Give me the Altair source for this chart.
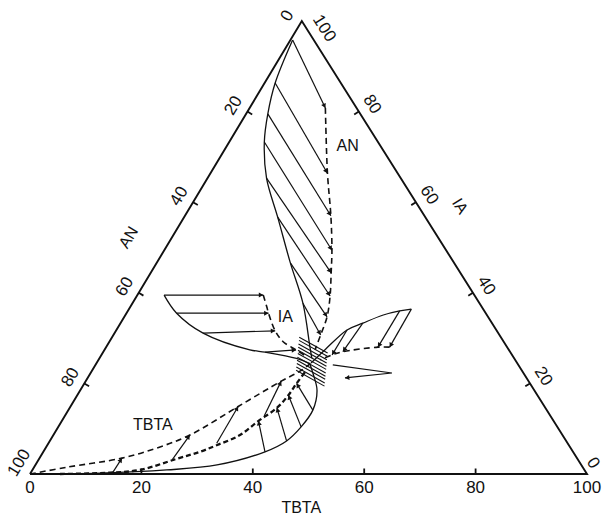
import math
import altair as alt
import pandas as pd

# Ternary phase diagram AN / IA / TBTA.
# Every composition is given in mass % as (TBTA, IA); AN is the balance.

# Upper two-phase region, labelled AN
an_solid = [(0.4, 95.8), (1.9, 86.3), (3.9, 79.5), (6.3, 73.3), (10.6, 65.3),
            (16.8, 56.7), (24.0, 46.6), (30.6, 37.7), (36.6, 28.0), (38.1, 25.6)]
an_dashed = [(13.6, 80.8), (21.0, 66.4), (26.2, 57.0), (30.1, 49.4), (32.4, 44.4),
             (34.7, 39.3), (36.4, 34.7), (37.2, 30.7), (37.8, 27.4)]
an_ties = [((0.4, 95.8), (13.6, 80.8)), ((1.9, 86.3), (21.0, 66.4)),
           ((3.9, 79.5), (26.2, 57.0)), ((6.3, 73.3), (30.1, 49.4)),
           ((10.6, 65.3), (32.4, 44.4)), ((16.8, 56.7), (34.7, 39.3)),
           ((24.0, 46.6), (36.4, 34.7)), ((30.6, 37.7), (37.2, 30.7))]

# Left wing, labelled IA
ia_solid = [(4.8, 39.5), (9.0, 35.5), (15.9, 31.1), (26.1, 27.4), (29.1, 26.9),
            (35.4, 25.5), (38.5, 24.3)]
ia_dashed = [(22.6, 39.5), (24.5, 36.9), (25.5, 35.5), (28.6, 31.6), (31.2, 29.2),
             (34.4, 27.4), (36.9, 26.0)]
ia_ties = [((4.8, 39.5), (22.6, 39.5)), ((9.0, 35.5), (25.5, 35.5)),
           ((15.9, 31.1), (28.6, 31.6)), ((29.1, 26.9), (34.4, 27.4))]

# Right wing towards the TBTA-IA side
wing_solid = [(38.5, 24.5), (39.6, 27.5), (41.4, 31.8), (43.5, 33.3), (46.3, 35.1),
              (48.8, 36.0), (50.7, 36.4)]
wing_dashed = [(50.9, 28.0), (48.8, 28.0), (43.0, 27.0), (41.4, 26.3), (39.8, 25.2)]
wing_ties = [((50.7, 36.4), (50.9, 28.0)), ((48.8, 36.0), (48.8, 28.0)),
             ((43.5, 33.3), (43.0, 27.0)), ((41.4, 31.8), (41.4, 26.3))]
spike = [(42.6, 24.1), (54.1, 22.3), (46.2, 21.2)]

# Lower region, labelled TBTA
tbta_solid = [(0.0, 0.0), (12.5, 0.2), (24.1, 0.9), (32.6, 2.0), (39.8, 4.9),
              (42.5, 7.3), (43.6, 10.4), (43.9, 14.1), (42.5, 18.5), (39.9, 22.3),
              (38.4, 24.3)]
tbta_dotted = [(5.4, 0.0), (14.2, 0.3), (19.3, 0.9), (24.6, 3.3), (28.1, 4.9),
               (30.5, 6.4), (33.5, 8.6), (35.3, 11.7), (37.2, 14.6), (37.9, 17.4),
               (38.1, 20.0), (38.4, 22.5)]
tbta_dashed = [(0.0, 0.0), (5.9, 1.5), (14.8, 3.5), (19.9, 5.7), (24.5, 8.6),
               (30.1, 14.9), (35.1, 20.5), (37.4, 22.7), (38.4, 24.3)]
tbta_ties_up = [((39.8, 4.9), (35.3, 11.7)), ((42.5, 7.3), (37.2, 14.6)),
                ((43.6, 10.4), (37.9, 17.4)), ((43.9, 14.1), (38.1, 20.0))]
tbta_ties_out = [((14.7, 0.4), (14.8, 3.5)), ((24.0, 3.1), (24.5, 8.6)),
                 ((30.2, 6.8), (30.1, 14.9)), ((35.8, 12.8), (35.1, 20.5))]

# Short tie lines crowding round the plait point
plait_ties = [((33.6, 30.2), (40.4, 26.7)), ((33.9, 29.5), (40.7, 26.0)),
              ((34.2, 28.7), (41.0, 25.2)), ((34.5, 28.0), (41.3, 24.5)),
              ((34.8, 27.3), (41.6, 23.8)), ((35.1, 26.6), (41.9, 23.1)),
              ((35.4, 25.8), (42.2, 22.3)), ((35.7, 25.1), (42.5, 21.6)),
              ((36.0, 24.4), (42.8, 20.9)), ((36.3, 23.6), (43.1, 20.1)),
              ((36.6, 22.9), (43.4, 19.4))]

# where the three region names sit, (TBTA, IA)
region_names = [((21.7, 72.4), "AN"), ((28.9, 34.7), "IA"), ((16.8, 10.8), "TBTA")]

tick_values = [0, 20, 40, 60, 80, 100]
axis_name = "TBTA"
left_name = "AN"
right_name = "IA"

# ---------------------------------------------------------------- geometry
W, H = 557, 453
PX_X, PX_Y = W / 100.0, H / 100.0
SKEW = 0.488          # horizontal position of the IA apex along the base
INK = "#111111"
FONT = "Liberation Sans"
HEAD_BACK = 2.2       # px between a tie's end and the centre of its arrowhead


def cart(t, i):
    return t + SKEW * i, i


def unit(dx, dy):
    n = math.hypot(dx, dy)
    return dx / n, dy / n


# screen-space directions of the two slanted sides and their outward normals
tl = unit(SKEW * 100 * PX_X, -100 * PX_Y)
tr = unit((100 - SKEW * 100) * PX_X, 100 * PX_Y)
nl = (tl[1], -tl[0])
nr = (tr[1], -tr[0])


def shift(x, y, dpx, dpy):
    return x + dpx / PX_X, y - dpy / PX_Y


def curve_rows(name, pts):
    out = []
    for k, (t, i) in enumerate(pts):
        x, y = cart(t, i)
        out.append(dict(curve=name, seq=k, x=x, y=y))
    return out


def tie_rows(ties):
    out = []
    for (t0, i0), (t1, i1) in ties:
        x0, y0 = cart(t0, i0)
        x1, y1 = cart(t1, i1)
        out.append(dict(x=x0, y=y0, x2=x1, y2=y1))
    return out


def head_rows(ties):
    out = []
    for (t0, i0), (t1, i1) in ties:
        x0, y0 = cart(t0, i0)
        x1, y1 = cart(t1, i1)
        dx = (x1 - x0) * PX_X
        dy = -(y1 - y0) * PX_Y
        ux, uy = unit(dx, dy)
        ang = math.degrees(math.atan2(dx, -dy)) % 360
        hx, hy = shift(x1, y1, -ux * HEAD_BACK, -uy * HEAD_BACK)
        out.append(dict(x=hx, y=hy, ang=ang))
    return out


solid_df = pd.DataFrame(curve_rows("an", an_solid) + curve_rows("ia", ia_solid)
                        + curve_rows("wing", wing_solid) + curve_rows("tbta", tbta_solid))
dashed_df = pd.DataFrame(curve_rows("an", an_dashed) + curve_rows("ia", ia_dashed)
                         + curve_rows("wing", wing_dashed) + curve_rows("tbta", tbta_dashed))
dotted_df = pd.DataFrame(curve_rows("tbta", tbta_dotted))
spike_df = pd.DataFrame(curve_rows("spike", spike))
frame_df = pd.DataFrame(curve_rows("frame", [(0, 0), (100, 0), (0, 100), (0, 0)]))

arrow_ties = an_ties + ia_ties + wing_ties + tbta_ties_up + tbta_ties_out
ties_df = pd.DataFrame(tie_rows(arrow_ties))
plait_df = pd.DataFrame(tie_rows(plait_ties))
heads_df = pd.DataFrame(head_rows(arrow_ties + [(spike[1], spike[2])]))

# tick marks pointing into the triangle
TICK = 5.5
tick_rows = []
for v in tick_values[1:-1]:
    x, y = cart(v, 0)                       # TBTA along the base
    x2, y2 = shift(x, y, 0, -TICK)
    tick_rows.append(dict(x=x, y=y, x2=x2, y2=y2))
    x, y = cart(0, 100 - v)                 # AN along the left side
    x2, y2 = shift(x, y, -nl[0] * TICK, -nl[1] * TICK)
    tick_rows.append(dict(x=x, y=y, x2=x2, y2=y2))
    x, y = cart(100 - v, v)                 # IA along the right side
    x2, y2 = shift(x, y, -nr[0] * TICK, -nr[1] * TICK)
    tick_rows.append(dict(x=x, y=y, x2=x2, y2=y2))
ticks_df = pd.DataFrame(tick_rows)

# labels
ANG_L = math.degrees(math.atan2(tl[1], tl[0])) % 360
ANG_R = math.degrees(math.atan2(tr[1], tr[0])) % 360
label_rows = []
for v in tick_values:
    x, y = cart(v, 0)
    label_rows.append(dict(x=x, y=y - 14 / PX_Y, text=str(v), ang=0, size=17))
left_along = {0: -3, 100: 4}
right_along = {100: 18, 0: -6}
right_out = {0: 11}
for v in tick_values:
    x, y = cart(0, 100 - v)
    a, b = 15, left_along.get(v, -2)
    x, y = shift(x, y, nl[0] * a + tl[0] * b, nl[1] * a + tl[1] * b)
    label_rows.append(dict(x=x, y=y, text=str(v), ang=ANG_L, size=17))
    x, y = cart(100 - v, v)
    a, b = right_out.get(v, 15), right_along.get(v, 1)
    x, y = shift(x, y, nr[0] * a + tr[0] * b, nr[1] * a + tr[1] * b)
    label_rows.append(dict(x=x, y=y, text=str(v), ang=ANG_R, size=17))

x, y = cart(50, 0)
label_rows.append(dict(x=x - 1.3, y=y - 34 / PX_Y, text=axis_name, ang=0, size=16))
x, y = cart(0, 48)
x, y = shift(x, y, nl[0] * 37, nl[1] * 37)
label_rows.append(dict(x=x, y=y, text=left_name, ang=ANG_L, size=16))
x, y = cart(45, 55)
x, y = shift(x, y, nr[0] * 35, nr[1] * 35)
label_rows.append(dict(x=x, y=y, text=right_name, ang=ANG_R, size=16))

for (t, i), name in region_names:
    x, y = cart(t, i)
    label_rows.append(dict(x=x, y=y, text=name, ang=0, size=16))
labels_df = pd.DataFrame(label_rows)

# ---------------------------------------------------------------- chart
xs = alt.Scale(domain=[0, 100], nice=False, zero=False)
ys = alt.Scale(domain=[0, 100], nice=False, zero=False)
X = alt.X("x:Q", scale=xs, axis=None)
Y = alt.Y("y:Q", scale=ys, axis=None)


def lines(df, **mark):
    return alt.Chart(df).mark_line(color=INK, **mark).encode(
        X, Y, detail="curve:N", order="seq:Q")


def rules(df, width):
    return alt.Chart(df).mark_rule(color=INK, strokeWidth=width).encode(
        X, Y, x2="x2:Q", y2="y2:Q")


frame = lines(frame_df, strokeWidth=1.9, interpolate="linear")
ticks = rules(ticks_df, 1.8)
solid = lines(solid_df, strokeWidth=1.3, interpolate="catmull-rom")
dashed = lines(dashed_df, strokeWidth=1.6, strokeDash=[6, 4], interpolate="catmull-rom")
dotted = lines(dotted_df, strokeWidth=2.3, strokeDash=[5, 3], interpolate="catmull-rom")
spike_line = lines(spike_df, strokeWidth=1.2, interpolate="linear")
tie_lines = rules(ties_df, 1.2)
plait_lines = rules(plait_df, 1.1)
heads = alt.Chart(heads_df).mark_point(
    shape="triangle-up", filled=True, size=26, color=INK, opacity=1
).encode(X, Y, angle=alt.Angle("ang:Q", scale=None))
texts = alt.Chart(labels_df).mark_text(
    font=FONT, color=INK, align="center", baseline="middle"
).encode(X, Y, text="text:N", angle=alt.Angle("ang:Q", scale=None),
         size=alt.Size("size:Q", scale=None))

chart = alt.layer(
    frame, ticks, solid, dashed, dotted, spike_line, tie_lines, plait_lines, heads, texts
).properties(
    width=W, height=H,
    autosize=alt.AutoSizeParams(type="none"),
    padding={"left": 30, "top": 21, "right": 18, "bottom": 44},
    background="white",
).configure_view(stroke=None)

chart.save("out.html", embed_options={"renderer": "svg", "actions": False})
